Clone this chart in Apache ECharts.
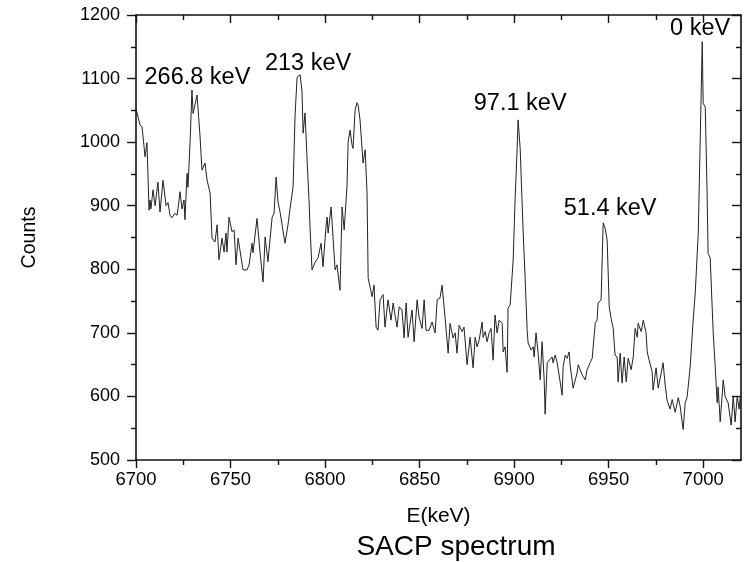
<!DOCTYPE html>
<html>
<head>
<meta charset="utf-8">
<script src="https://cdn.jsdelivr.net/npm/echarts@6/dist/echarts.min.js"></script>
<style>
  html, body { margin: 0; padding: 0; background: #fff; }
  #chart { width: 747px; height: 562px; }
</style>
</head>
<body>
<div id="chart"></div>
<script>
// SACP spectrum: [energy (keV), counts]
const spectrum = [
  [6700.0,1053],[6702.1,1027],[6703.2,1024],[6704.8,977],[6705.8,999],[6706.9,893],[6707.4,909],[6707.9,895],
  [6709.0,925],[6710.1,900],[6711.6,937],[6712.7,890],[6714.3,940],[6715.9,900],[6716.9,905],[6718.0,885],
  [6719.0,881],[6720.6,888],[6721.7,885],[6722.2,895],[6723.3,922],[6724.3,895],[6725.4,909],[6725.9,878],
  [6727.0,951],[6727.5,929],[6728.6,999],[6729.6,1082],[6730.2,1045],[6731.2,1045],[6732.3,1074],[6733.9,1008],
  [6734.9,956],[6736.5,967],[6737.6,940],[6739.2,920],[6740.2,849],[6741.8,843],[6742.9,870],[6743.9,815],
  [6745.5,849],[6746.6,827],[6747.6,857],[6748.1,827],[6749.2,882],[6750.8,859],[6751.9,862],[6752.9,807],
  [6754.0,849],[6755.6,818],[6756.6,799],[6758.7,799],[6759.8,807],[6761.4,841],[6761.9,826],[6764.0,880],
  [6765.6,827],[6767.2,780],[6768.3,851],[6769.8,812],[6772.0,882],[6773.0,888],[6774.1,945],[6775.1,906],
  [6776.2,890],[6777.2,890],[6778.8,841],[6780.4,870],[6781.5,896],[6783.1,930],[6784.1,1040],[6785.2,1102],
  [6786.8,1106],[6787.8,1080],[6788.4,1014],[6789.4,1046],[6790.5,972],[6791.5,910],[6792.1,862],[6793.1,799],
  [6794.7,811],[6796.3,818],[6797.9,841],[6798.9,804],[6800.5,867],[6801.1,882],[6801.6,857],[6803.2,898],
  [6804.2,851],[6805.3,799],[6806.3,807],[6807.9,767],[6809.0,898],[6810.1,862],[6811.1,865],[6811.6,930],
  [6812.2,1000],[6813.2,1019],[6814.3,995],[6814.8,990],[6815.9,1051],[6816.9,1062],[6817.5,1058],[6818.5,1035],
  [6820.1,967],[6821.2,988],[6822.2,920],[6822.8,786],[6823.8,786],[6824.9,757],[6825.9,775],[6827.0,709],
  [6828.0,704],[6829.1,752],[6830.7,760],[6831.7,709],[6833.3,752],[6834.9,720],[6836.0,747],[6837.0,728],
  [6838.1,709],[6839.2,741],[6840.7,736],[6841.8,692],[6842.9,747],[6843.9,693],[6846.0,736],[6847.1,686],
  [6848.7,752],[6849.7,725],[6851.3,707],[6852.4,752],[6853.4,704],[6855.0,704],[6856.6,717],[6858.2,700],
  [6859.3,752],[6860.8,755],[6861.9,775],[6863.5,723],[6864.0,720],[6865.1,668],[6866.1,715],[6867.7,692],
  [6868.8,700],[6869.8,668],[6870.9,712],[6872.5,702],[6873.5,709],[6875.1,650],[6876.7,693],[6878.3,645],
  [6879.4,693],[6880.4,678],[6881.5,689],[6883.1,717],[6883.6,693],[6884.7,702],[6885.7,686],[6886.8,700],
  [6887.8,707],[6888.9,657],[6889.9,728],[6891.0,700],[6892.1,720],[6893.7,715],[6894.2,670],[6895.2,678],
  [6896.3,638],[6896.8,739],[6897.9,744],[6899.5,815],[6900.5,909],[6901.6,990],[6902.1,1035],[6903.2,990],
  [6904.8,857],[6905.8,788],[6906.9,704],[6907.4,684],[6909.0,673],[6910.1,678],[6910.6,662],[6911.6,700],
  [6912.7,668],[6913.8,626],[6914.8,686],[6915.9,626],[6916.4,572],[6917.5,653],[6918.5,650],[6920.1,662],
  [6920.6,653],[6921.7,665],[6922.8,653],[6923.8,653],[6925.4,602],[6925.9,646],[6927.0,665],[6928.0,660],
  [6929.1,670],[6929.6,650],[6931.2,613],[6933.3,637],[6933.9,650],[6934.9,642],[6936.0,634],[6937.6,626],
  [6938.6,642],[6940.2,653],[6941.3,660],[6942.9,715],[6943.9,720],[6944.4,747],[6946.0,752],[6947.1,873],
  [6947.6,870],[6948.1,865],[6949.2,846],[6950.3,741],[6951.3,723],[6952.4,707],[6953.4,665],[6954.5,662],
  [6955.0,623],[6956.1,668],[6957.1,621],[6958.2,662],[6959.3,623],[6960.3,660],[6961.9,642],[6963.0,662],
  [6964.0,707],[6965.1,693],[6965.6,715],[6967.2,702],[6968.3,720],[6968.8,723],[6969.8,700],[6970.4,670],
  [6971.4,657],[6973.0,639],[6973.5,610],[6975.1,645],[6976.2,613],[6977.8,637],[6978.8,653],[6979.9,618],
  [6980.9,594],[6982.5,580],[6983.6,595],[6985.2,575],[6986.8,598],[6987.8,585],[6989.4,548],[6990.5,590],
  [6991.5,599],[6993.1,646],[6994.7,720],[6995.8,763],[6997.4,857],[6998.4,1000],[6999.5,1158],[7000.0,1061],
  [7001.1,1055],[7002.1,914],[7002.6,825],[7003.7,818],[7005.3,700],[7006.3,650],[7007.4,590],[7007.9,615],
  [7009.0,560],[7010.6,626],[7011.6,600],[7013.2,590],[7014.8,555],[7015.9,600],[7016.9,560],[7018.0,600],
  [7019.0,580],[7019.6,600]
];

// Peak annotations: text, and the energy / count where each label sits
const peakNames = ['266.8 keV', '213 keV', '97.1 keV', '51.4 keV', '0 keV'];
const peakLabelE = [6732.5, 6791, 6903.2, 6950.8, 6998.4];
const peakLabelC = [1102, 1124, 1060, 895, 1179];

// Axis ticks
const xMajorTicks = [6700, 6750, 6800, 6850, 6900, 6950, 7000];
const xMinorTicks = [6725, 6775, 6825, 6875, 6925, 6975];
const xRange = [6700, 7020];
const yRange = [500, 1200];
const yStep = 100;

const FONT = 'Liberation Sans, Arial, Helvetica, sans-serif';
const INK = '#111';
const plain = v => String(v);

const chart = echarts.init(document.getElementById('chart'), null, { renderer: 'canvas' });

const hiddenLine = { show: false };
const frameLine = { show: true, onZero: false, lineStyle: { color: INK, width: 1.6 } };

function xAxisDef(position, tickValues, tickLen, inside, withLine, withLabels) {
  return {
    type: 'value',
    position: position,
    min: xRange[0],
    max: xRange[1],
    axisLine: withLine ? frameLine : hiddenLine,
    axisTick: { show: true, inside: inside, length: tickLen, customValues: tickValues,
                lineStyle: { color: INK, width: 1.4 } },
    axisLabel: withLabels
      ? { show: true, customValues: xMajorTicks, formatter: plain, color: '#000',
          fontFamily: FONT, fontSize: 18.5, margin: 10 }
      : { show: false },
    splitLine: { show: false }
  };
}

const bottomMain = xAxisDef('bottom', xMajorTicks, 8, false, true, true);
bottomMain.name = 'E(keV)';
bottomMain.nameLocation = 'middle';
bottomMain.nameGap = 46;
bottomMain.nameTextStyle = { color: '#000', fontFamily: FONT, fontSize: 21 };

function yAxisDef(position, inside, withLabels) {
  return {
    type: 'value',
    position: position,
    min: yRange[0],
    max: yRange[1],
    interval: yStep,
    axisLine: frameLine,
    axisTick: { show: true, inside: inside, length: 9, lineStyle: { color: INK, width: 1.4 } },
    minorTick: { show: true, splitNumber: 2, length: 5, lineStyle: { color: INK, width: 1.4 } },
    axisLabel: withLabels
      ? { show: true, formatter: plain, color: '#000', fontFamily: FONT, fontSize: 18, margin: 16 }
      : { show: false },
    splitLine: { show: false },
    minorSplitLine: { show: false }
  };
}

const leftMain = yAxisDef('left', false, true);
leftMain.name = 'Counts';
leftMain.nameLocation = 'middle';
leftMain.nameRotate = 90;
leftMain.nameGap = 96;
leftMain.nameTextStyle = { color: '#000', fontFamily: FONT, fontSize: 19.5 };

const rightFrame = yAxisDef('right', true, false);

chart.setOption({
  animation: false,
  backgroundColor: '#fff',
  title: {
    text: 'SACP spectrum',
    left: 451,
    top: 528,
    textAlign: 'center',
    textStyle: { color: '#000', fontFamily: FONT, fontSize: 28, fontWeight: 'normal' }
  },
  grid: { left: 136, right: 6, top: 15, bottom: 102, containLabel: false },
  xAxis: [
    bottomMain,
    xAxisDef('bottom', xMinorTicks, 5, false, false, false),
    xAxisDef('top', xMajorTicks, 8, true, true, false),
    xAxisDef('top', xMinorTicks, 5, true, false, false)
  ],
  yAxis: [leftMain, rightFrame],
  series: [
    {
      type: 'line',
      xAxisIndex: 0,
      yAxisIndex: 0,
      data: spectrum,
      showSymbol: false,
      symbol: 'none',
      lineStyle: { color: '#222', width: 1 },
      silent: true,
      z: 3
    },
    {
      type: 'scatter',
      xAxisIndex: 0,
      yAxisIndex: 0,
      data: peakNames.map((n, i) => ({ value: [peakLabelE[i], peakLabelC[i]], name: n })),
      symbol: 'circle',
      symbolSize: 2,
      itemStyle: { color: 'rgba(255,255,255,0)', opacity: 1 },
      label: {
        show: true,
        position: 'inside',
        formatter: p => p.name,
        color: '#000',
        opacity: 1,
        fontFamily: FONT,
        fontSize: 23.5
      },
      labelLayout: { hideOverlap: false },
      silent: true,
      z: 4
    }
  ]
});
</script>
</body>
</html>
